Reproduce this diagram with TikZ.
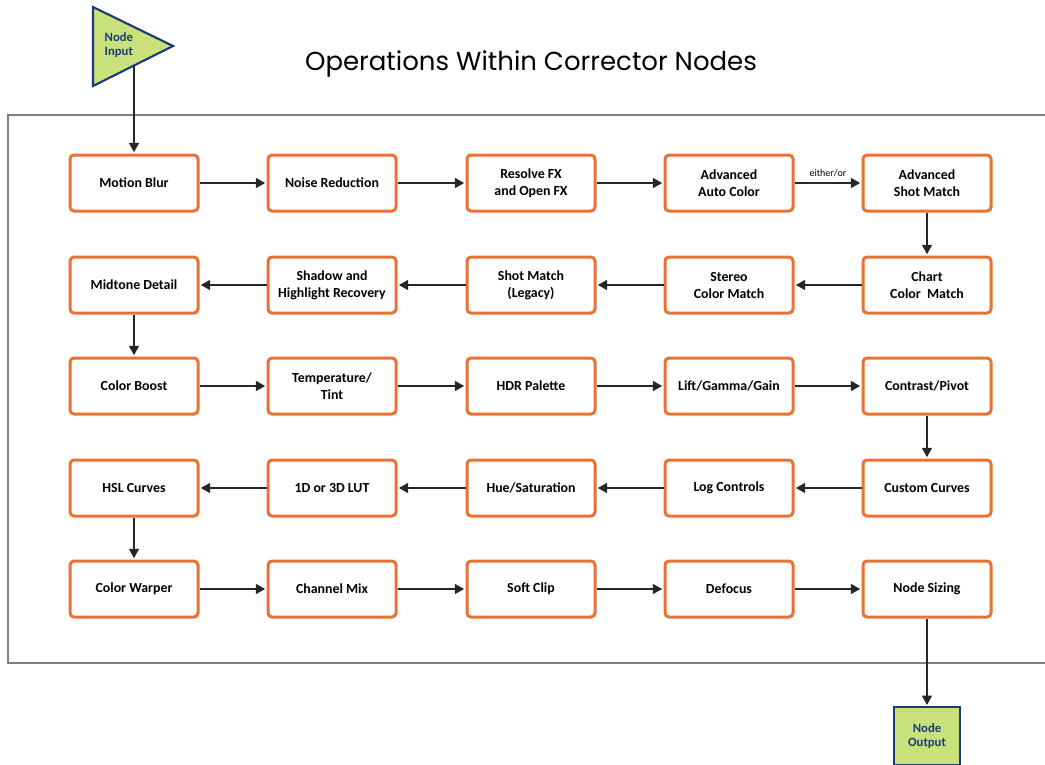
\documentclass[tikz,border=0pt]{standalone}
\usepackage{fontspec}
\setmainfont{Carlito}
\newfontfamily\titlefont{Poppins}
\usepackage{tikz}
\usetikzlibrary{arrows.meta}
\usepackage{xcolor}
\definecolor{boxorange}{RGB}{232,114,52}
\definecolor{nodegreen}{RGB}{200,225,122}
\definecolor{nodeblue}{RGB}{28,58,124}

\begin{document}
\begin{tikzpicture}[x=0.75pt, y=-0.75pt, >={Triangle[length=7pt,width=7.5pt]},
  every node/.style={font=\bfseries\fontsize{10.4}{12.75}\selectfont},
  op/.style={draw=boxorange, line width=2.25pt, rounded corners=3pt, fill=white,
    minimum width=96pt, minimum height=42pt, align=center, inner sep=2pt},
  flow/.style={->, line width=1.1pt, draw=black!85, shorten >=1pt},
  io/.style={draw=nodeblue, fill=nodegreen, line width=1.6pt, text=nodeblue,
    font=\bfseries\fontsize{9.5}{10.5}\selectfont}]

\clip (0,0) rectangle (1045,764);

% Title and frame
\node[font=\titlefont\fontsize{19.5}{23}\selectfont] at (531,64) (title) {Operations Within Corrector Nodes};
\draw[black!50, line width=0.9pt] (8,115) rectangle (1070,663);

% Node input
\filldraw[io] (93,7) -- (173,46) -- (93,86) -- cycle;
\node[anchor=west, align=left, text=nodeblue, font=\bfseries\fontsize{9.5}{10.5}\selectfont] at (100,45) (inlabel) {Node\\Input};
\coordinate (inpt) at (134,66);

% Row 1
\node[op] at (134,183) (MB) {Motion Blur};
\node[op] at (332,183) (NR) {Noise Reduction};
\node[op] at (531,183) (RFX) {Resolve FX\\and Open FX};
\node[op] at (729,183) (AAC) {Advanced\\Auto Color};
\node[op] at (927,183) (ASM) {Advanced\\Shot Match};

% Row 2
\node[op] at (134,285) (MD) {Midtone Detail};
\node[op] at (332,285) (SHR) {Shadow and\\Highlight Recovery};
\node[op] at (531,285) (SML) {Shot Match\\(Legacy)};
\node[op] at (729,285) (SCM) {Stereo\\Color Match};
\node[op] at (927,285) (CCM) {Chart\\Color~ Match};

% Row 3
\node[op] at (134,386) (CB) {Color Boost};
\node[op] at (332,386) (TT) {Temperature/\\Tint};
\node[op] at (531,386) (HDR) {HDR Palette};
\node[op] at (729,386) (LGG) {Lift/Gamma/Gain};
\node[op] at (927,386) (CP) {Contrast/Pivot};

% Row 4
\node[op] at (134,488) (HSL) {HSL Curves};
\node[op] at (332,488) (LUT) {1D or 3D LUT};
\node[op] at (531,488) (HS) {Hue/Saturation};
\node[op] at (729,488) (LC) {Log Controls};
\node[op] at (927,488) (CC) {Custom Curves};

% Row 5
\node[op] at (134,589) (CW) {Color Warper};
\node[op] at (332,589) (CM) {Channel Mix};
\node[op] at (531,589) (SC) {Soft Clip};
\node[op] at (729,589) (DF) {Defocus};
\node[op] at (927,589) (NS) {Node Sizing};

% Node output
\node[io, align=center, minimum width=49.5pt, minimum height=43pt] at (927,736) (out) {Node\\Output};

% Connections
\draw[flow] (inpt) -- (MB);
\draw[flow] (AAC) -- node[above=1pt, font=\fontsize{7.5}{9}\selectfont] (either) {either/or} (ASM);
\foreach \a/\b in {MB/NR, NR/RFX, RFX/AAC, ASM/CCM, CCM/SCM, SCM/SML, SML/SHR, SHR/MD,
    MD/CB, CB/TT, TT/HDR, HDR/LGG, LGG/CP, CP/CC, CC/LC, LC/HS, HS/LUT, LUT/HSL,
    HSL/CW, CW/CM, CM/SC, SC/DF, DF/NS, NS/out} {
    \draw[flow] (\a) -- (\b);
}
\end{tikzpicture}
\end{document}
